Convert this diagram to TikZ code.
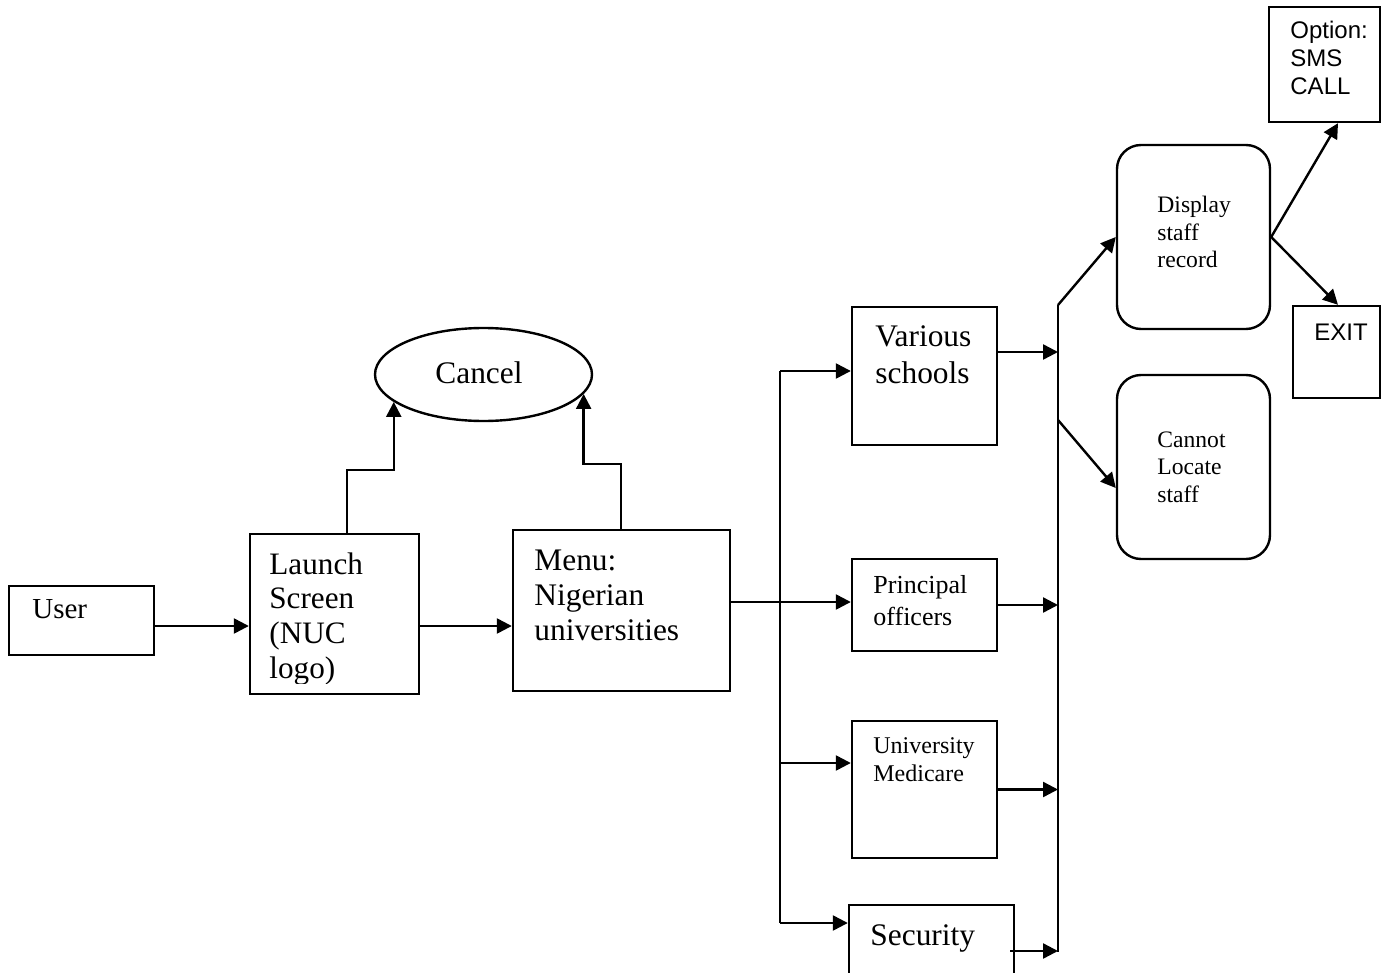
\documentclass[tikz,border=0pt]{standalone}
\usepackage{fontspec}
\setmainfont{Liberation Serif}
\newfontfamily\arialfont{Liberation Sans}
\usetikzlibrary{arrows.meta,shapes.geometric,calc}
\begin{document}
\begin{tikzpicture}[x=0.5pt,y=-0.5pt,
  box/.style={draw,line width=1.2pt,rectangle,inner sep=0pt},
  roundbox/.style={box,rounded corners=12pt},
  oval/.style={draw,line width=1.2pt,ellipse,inner sep=0pt},
  txt/.style={anchor=base west,inner sep=0pt,text width=#1,align=left},
  big/.style={font=\fontsize{15.7}{17.5}\selectfont},
  arr/.style={line width=1.2pt,-{Triangle[length=7.5pt,width=7.5pt]}},
  wire/.style={line width=1.2pt}]

\useasboundingbox (0,0) rectangle (1381,973);
\clip (0,0) rectangle (1381,973);

% boxes
\node[box,minimum width=72.5pt,minimum height=34.5pt] (user) at (81.5,620.5) {};
\node[box,minimum width=84.5pt,minimum height=80pt] (launch) at (334.5,614) {};
\node[box,minimum width=108.5pt,minimum height=80.5pt] (menu) at (621.5,610.5) {};
\node[oval,minimum width=108.5pt,minimum height=46.5pt] (cancel) at (483.5,374.5) {};
\node[box,minimum width=72.5pt,minimum height=69pt] (various) at (924.5,376) {};
\node[box,minimum width=72.5pt,minimum height=46pt] (principal) at (924.5,605) {};
\node[box,minimum width=72.5pt,minimum height=68.5pt] (medicare) at (924.5,789.5) {};
\node[box,minimum width=82.5pt,minimum height=47.5pt] (security) at (931.5,952.5) {};
\node[roundbox,minimum width=76.5pt,minimum height=92pt] (display) at (1193.5,237) {};
\node[roundbox,minimum width=76.5pt,minimum height=92pt] (cannot) at (1193.5,467) {};
\node[box,minimum width=55.5pt,minimum height=57.5pt] (option) at (1324.5,64.5) {};
\node[box,minimum width=43.5pt,minimum height=46pt] (exit) at (1336.5,352) {};

% labels
\node[txt=60pt,font=\fontsize{14.5}{17}\selectfont] (userT) at (32,618) {User};
\begin{scope}
  \clip (250,534) rectangle (419,683);
  \node[txt=70pt,font=\fontsize{15.6}{17.4}\selectfont] (launchT) at (269,574) {Launch\\Screen\\(NUC\\logo)};
\end{scope}
\node[txt=100pt,big] (menuT) at (534,570) {Menu:\\Nigerian\\universities};
\node[txt=60pt,big] (cancelT) at (435,383) {Cancel};
\node[txt=65pt,font=\fontsize{15.7}{18.5}\selectfont] (variousT) at (875,346) {Various\\schools};
\node[txt=65pt,font=\fontsize{13}{16}\selectfont] (principalT) at (873,593) {Principal\\officers};
\node[txt=65pt,font=\fontsize{12}{14}\selectfont] (medicareT) at (873,753) {University\\Medicare};
\node[txt=70pt,big] (securityT) at (870,945) {Security};
\node[txt=50pt,font=\fontsize{11.8}{13.75}\selectfont] (displayT) at (1157,213) {Display\\staff\\record};
\node[txt=50pt,font=\fontsize{11.8}{13.75}\selectfont] (cannotT) at (1157,447) {Cannot\\Locate\\staff};
\node[txt=45pt,font=\arialfont\fontsize{12}{14}\selectfont] (optionT) at (1290,39) {Option:\\SMS\\CALL};
\node[txt=40pt,font=\arialfont\fontsize{12}{14}\selectfont] (exitT) at (1314,340) {EXIT};

% main flow
\draw[arr] (user.east |- 0,626) -- (launch.west |- 0,626);
\draw[arr] (launch.east |- 0,626) -- (menu.west |- 0,626);
\draw[arr] (launch.north -| 347,0) -- (347,470) -| (cancel.197);
\draw[arr] (menu.north -| 621,0) -- (621,464) -| (cancel.-11.8);

% left distribution bus
\coordinate (lbTop) at (780,371);
\coordinate (lbBot) at (780,923);
\draw[wire] (lbTop) -- (lbBot);
\draw[arr] (lbTop) -- (various.west |- lbTop);
\draw[arr] (menu.east |- 0,602) -- (principal.west |- 0,602);
\draw[arr] (lbTop |- 0,763) -- (medicare.west |- 0,763);
\draw[arr] (lbBot) -- (security.west |- lbBot);

% right collecting bus
\coordinate (rbTop) at (1058,305);
\coordinate (rbMid) at (1058,420);
\coordinate (rbBot) at (1058,952);
\draw[wire] (rbTop) -- (rbBot);
\draw[arr] (various.east |- 0,352) -- (rbTop |- 0,352);
\draw[arr] (principal.east) -- (rbTop |- principal.east);
\draw[arr] (medicare.east) -- (rbTop |- medicare.east);
\draw[arr] ($(security.east |- 0,951)+(-5,0)$) -- (rbTop |- 0,951);

% results
\draw[arr] (rbTop) -- (display.west);
\draw[arr] (rbMid) -- (cannot.west |- 0,488);
\draw[arr] (display.east) -- (option.south -| 1338,0);
\draw[arr] (display.east) -- (exit.north -| 1338,0);
\end{tikzpicture}
\end{document}
